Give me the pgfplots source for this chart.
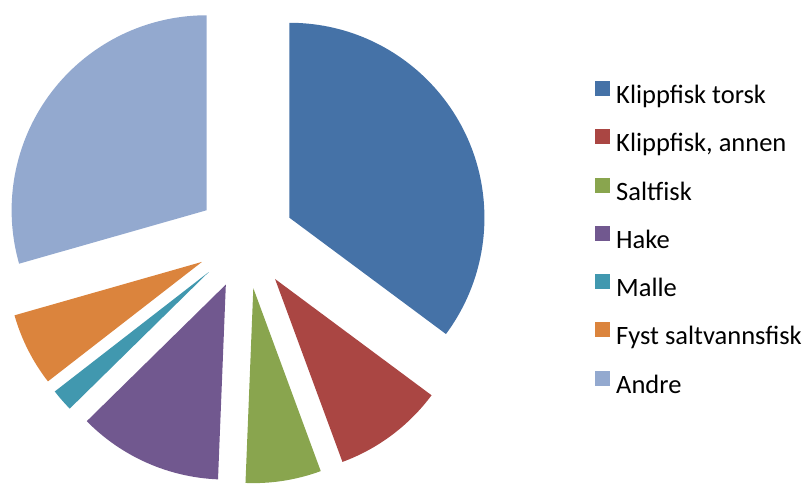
\documentclass[border=0pt]{standalone}
\usepackage{pgfplots}
\usepackage{pgfplotstable}
\pgfplotsset{compat=1.18}
\usepackage{fontspec}
\setmainfont{Carlito}
\definecolor{pc0}{HTML}{4572A7}
\definecolor{pc1}{HTML}{AA4643}
\definecolor{pc2}{HTML}{89A54E}
\definecolor{pc3}{HTML}{71588F}
\definecolor{pc4}{HTML}{4198AF}
\definecolor{pc5}{HTML}{DB843D}
\definecolor{pc6}{HTML}{93A9CF}
\pgfplotstableread[col sep=semicolon]{
label;value
Klippfisk torsk;35.17
Klippfisk, annen;9.21
Saltfisk;6.26
Hake;12.00
Malle;1.86
Fyst saltvannsfisk;6.08
Andre;29.42
}\piedata
\begin{document}
\begin{tikzpicture}
\path (0,0) rectangle (807pt,479pt);
\begin{axis}[at={(0,0)}, anchor=origin, x=1pt, y=1pt,
  xmin=0, xmax=807, ymin=0, ymax=479, hide axis, clip=false,
  legend style={draw=none, fill=none, at={(axis cs:595,398.2)}, anchor=north west,
    font=\fontsize{26.5}{31}\selectfont, row sep=19.8pt, column sep=6pt, inner sep=0pt,
    nodes={inner sep=0pt, text height=18pt, text depth=6pt}},
  legend cell align=left,
  legend image code/.code={\fill[#1] (0pt,1.5pt) rectangle (15pt,16.5pt);},
]
\def\cum{0}
\pgfplotstablegetrowsof{\piedata}
\pgfmathtruncatemacro\N{\pgfplotsretval-1}
\pgfplotsforeachungrouped \i in {0,...,\N}{%
  \pgfplotstablegetelem{\i}{value}\of\piedata \let\v\pgfplotsretval
  \pgfplotstablegetelem{\i}{label}\of\piedata \let\lab\pgfplotsretval
  \pgfmathsetmacro\a{90-3.6*\cum}%
  \pgfmathsetmacro\b{90-3.6*(\cum+\v)}%
  \pgfmathsetmacro\m{(\a+\b)/2}%
  \pgfmathsetmacro\vx{245.6+49*cos(\m)}%
  \pgfmathsetmacro\vy{239.2+49*sin(\m)}%
  \edef\temp{\noexpand\fill[pc\i] (axis cs:\vx,\vy) -- ++(\a:195pt) arc[start angle=\a, end angle=\b, radius=195pt] -- cycle;
    \noexpand\addlegendimage{fill=pc\i, draw=none}
    \noexpand\addlegendentry{\lab}}%
  \temp
  \pgfmathsetmacro\cum{\cum+\v}%
}
\end{axis}
\end{tikzpicture}
\end{document}
